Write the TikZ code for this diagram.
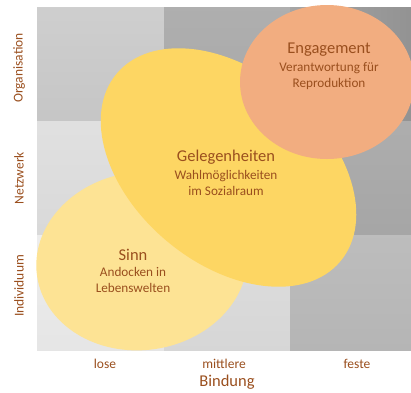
\documentclass[tikz,border=0pt]{standalone}
\usepackage{fontspec}
\setmainfont{Carlito}
\definecolor{txt}{HTML}{9A4F1E}
\definecolor{sinnc}{HTML}{FDE394}
\definecolor{gelc}{HTML}{FDD663}
\definecolor{engc}{HTML}{F2AD80}
\begin{document}
\begin{tikzpicture}[x=1pt,y=-1pt,
  cell/.style={draw=none},
  title/.style={text=txt,font=\fontsize{16.5}{16}\selectfont,inner sep=0pt},
  sub/.style={text=txt,font=\fontsize{13.2}{16}\selectfont,align=center,inner sep=0pt},
  axis/.style={text=txt,font=\fontsize{13.5}{14}\selectfont,inner sep=0pt},
  blob/.style={draw=none}]
\useasboundingbox (0,0) rectangle (411,392);
% grid cells
\shade[cell,top color=gray!38!white,bottom color=gray!45!white] (37,7) rectangle (164,121);
\shade[cell,top color=gray!63!white,bottom color=gray!68!white] (164,7) rectangle (290,121);
\shade[cell,left color=gray!70!white,right color=gray!85!white] (290,7) rectangle (411,121);
\shade[cell,top color=gray!24!white,bottom color=gray!30!white] (37,121) rectangle (164,235);
\shade[cell,top color=gray!42!white,bottom color=gray!48!white] (164,121) rectangle (290,235);
\shade[cell,top color=gray!64!white,bottom color=gray!70!white] (290,121) rectangle (411,235);
\shade[cell,top color=gray!14!white,bottom color=gray!20!white] (37,235) rectangle (164,350);
\shade[cell,top color=gray!26!white,bottom color=gray!32!white] (164,235) rectangle (290,350);
\shade[cell,top color=gray!52!white,bottom color=gray!58!white] (290,235) rectangle (411,350);
% ellipses
\fill[blob,sinnc,rotate around={8:(142,261)}] (142,261) ellipse [x radius=106pt,y radius=89pt];
\fill[blob,gelc,rotate around={-40:(228.5,167.5)}] (228.5,167.5) ellipse [x radius=146pt,y radius=96pt];
\fill[blob,engc] (327,82) ellipse [x radius=87pt,y radius=77pt];
% texts
\node[title] (engt) at (329,50) {Engagement};
\node[sub] (engs) at (329,76) {Verantwortung für\\Reproduktion};
\node[title] (gelt) at (226,157) {Gelegenheiten};
\node[sub] (gels) at (226,183) {Wahlmöglichkeiten\\im Sozialraum};
\node[title] (sinnt) at (133,255) {Sinn};
\node[sub] (sinns) at (133,280) {Andocken in\\Lebenswelten};
% axis labels
\node[axis,rotate=90] (org) at (19,68) {Organisation};
\node[axis,rotate=90] (netz) at (19,178) {Netzwerk};
\node[axis,rotate=90] (indi) at (19,286) {Individuum};
\node[axis] (lose) at (105,364) {lose};
\node[axis] (mitt) at (224,364) {mittlere};
\node[axis] (fest) at (357,364) {feste};
\node[title] (bind) at (227,382) {Bindung};
\end{tikzpicture}
\end{document}
